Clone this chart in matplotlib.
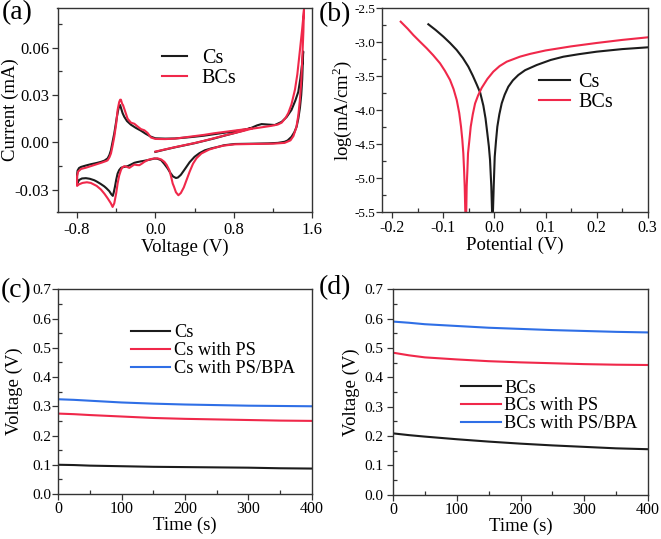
import numpy as np
import matplotlib
matplotlib.use('Agg')
import matplotlib.pyplot as plt
from matplotlib.ticker import MultipleLocator, FormatStrFormatter

plt.rcParams['font.family'] = ['Liberation Serif', 'DejaVu Serif']
plt.rcParams['axes.unicode_minus'] = False
plt.rcParams['mathtext.fontset'] = 'custom'
plt.rcParams['mathtext.rm'] = 'Liberation Serif'

BLACK = '#1c1c1c'
RED = '#f0284a'
BLUE = '#2f6fe6'

#%% (a) CV curves
cs_cv_v = [0.0, 0.1, 0.2, 0.3, 0.4, 0.5, 0.6, 0.7, 0.8, 0.9, 0.98, 1.04, 1.085, 1.15, 1.22, 1.29,
           1.34, 1.39, 1.43, 1.46, 1.48, 1.50, 1.51,
           1.50, 1.49, 1.477, 1.46, 1.443, 1.42, 1.39, 1.35, 1.32, 1.25, 1.15, 1.0, 0.81, 0.7,
           0.641, 0.57, 0.505, 0.45, 0.40, 0.35, 0.30, 0.26, 0.23, 0.21, 0.18, 0.15, 0.126, 0.09,
           0.058, 0.02, -0.01, -0.05, -0.08, -0.12, -0.15, -0.19, -0.215, -0.25, -0.283, -0.32,
           -0.35, -0.37, -0.386, -0.40, -0.413, -0.425, -0.435, -0.45, -0.471, -0.50, -0.522,
           -0.56, -0.60, -0.625, -0.67, -0.71, -0.75, -0.778, -0.795, -0.80,
           -0.80, -0.795, -0.78, -0.76, -0.71, -0.66, -0.60, -0.556, -0.52, -0.488, -0.47, -0.454,
           -0.44, -0.42, -0.405, -0.393, -0.38, -0.37, -0.36, -0.35, -0.335, -0.318, -0.29, -0.25,
           -0.20, -0.147, -0.10, -0.045, 0.0, 0.1, 0.2, 0.3, 0.4, 0.5, 0.6, 0.7, 0.8, 0.9, 0.98]
cs_cv_i = [-0.0060, -0.0045, -0.0031, -0.0018, -0.0005, 0.0010, 0.0025, 0.0042, 0.0058, 0.0075,
           0.0092, 0.0108, 0.0116, 0.0113, 0.0110, 0.0130,
           0.0160, 0.0205, 0.0265, 0.0320, 0.0400, 0.0500, 0.0575,
           0.0400, 0.0300, 0.0220, 0.0150, 0.0100, 0.0065, 0.0035, 0.0012, 0.0004, -0.0003,
           -0.0006, -0.0008, -0.0010, -0.0018,
           -0.0028, -0.0038, -0.0050, -0.0068, -0.0091, -0.0125, -0.0170, -0.0205, -0.0222,
           -0.0225, -0.0215, -0.0190, -0.0165, -0.0135,
           -0.0112, -0.0103, -0.0102, -0.0108, -0.0112, -0.0117, -0.0120, -0.0125, -0.0129,
           -0.0140, -0.0150, -0.0155,
           -0.0160, -0.0175, -0.0197, -0.0235, -0.0280, -0.0315, -0.0338, -0.0328, -0.0308,
           -0.0290, -0.0278,
           -0.0262, -0.0247, -0.0239, -0.0230, -0.0226, -0.0228, -0.0237, -0.0255, -0.0268,
           -0.0205, -0.0178, -0.0162, -0.0155, -0.0146, -0.0138, -0.0130, -0.0123, -0.0115,
           -0.0101, -0.0080, -0.0049,
           -0.0005, 0.0057, 0.0115, 0.0162, 0.0205, 0.0230, 0.0236, 0.0215, 0.0185, 0.0162,
           0.0135, 0.0112,
           0.0092, 0.0074, 0.0055, 0.0036, 0.0026, 0.0024, 0.0025, 0.0030, 0.0036, 0.0043,
           0.0052, 0.0061, 0.0070, 0.0080, 0.0090]

bcs_cv_v = [0.0, 0.1, 0.2, 0.3, 0.4, 0.5, 0.6, 0.7, 0.8, 0.9, 0.98, 1.08, 1.187, 1.25, 1.29,
            1.33, 1.358, 1.39, 1.426, 1.45, 1.477, 1.50, 1.518,
            1.512, 1.50, 1.49, 1.475, 1.46, 1.44, 1.41, 1.38, 1.32, 1.2, 0.98, 0.81, 0.7, 0.64,
            0.55, 0.47, 0.42, 0.385, 0.35, 0.32, 0.29, 0.26, 0.235, 0.21, 0.19, 0.177, 0.16,
            0.143, 0.115, 0.092, 0.06, 0.024, -0.01, -0.045, -0.08, -0.113, -0.14, -0.164,
            -0.19, -0.215, -0.24, -0.266, -0.29, -0.318, -0.34, -0.352, -0.37, -0.386, -0.40,
            -0.42, -0.437, -0.455, -0.488, -0.52, -0.556, -0.60, -0.66, -0.70, -0.744, -0.78,
            -0.80,
            -0.80, -0.79, -0.76, -0.71, -0.66, -0.60, -0.55, -0.50, -0.488, -0.47, -0.454,
            -0.44, -0.42, -0.40, -0.386, -0.37, -0.36, -0.352, -0.34, -0.33, -0.30, -0.284,
            -0.25, -0.215, -0.18, -0.147, -0.113, -0.08, -0.045, 0.0, 0.1, 0.2, 0.3, 0.4, 0.5,
            0.6, 0.7, 0.8, 0.9, 0.98]
bcs_cv_i = [-0.0058, -0.0044, -0.0030, -0.0017, -0.0004, 0.0011, 0.0027, 0.0043, 0.0058,
            0.0073, 0.0086, 0.0095, 0.0105, 0.0113, 0.0125,
            0.0155, 0.0186, 0.0240, 0.0334, 0.0430, 0.0585, 0.0720, 0.0840,
            0.0700, 0.0520, 0.0380, 0.0260, 0.0170, 0.0095, 0.0040, 0.0013, -0.0003, -0.0008,
            -0.0010, -0.0012, -0.0020, -0.0028,
            -0.0045, -0.0070, -0.0100, -0.0134, -0.0185, -0.0235, -0.0285, -0.0320, -0.0334,
            -0.0315, -0.0280, -0.0260, -0.0215,
            -0.0176, -0.0142, -0.0123, -0.0108, -0.0101, -0.0102, -0.0105, -0.0112, -0.0123,
            -0.0135, -0.0144,
            -0.0143, -0.0140, -0.0150, -0.0161, -0.0155, -0.0150, -0.0160, -0.0175, -0.0210,
            -0.0260, -0.0320,
            -0.0385, -0.0408, -0.0385, -0.0353, -0.0325, -0.0298, -0.0275, -0.0256, -0.0252,
            -0.0256, -0.0265, -0.0275,
            -0.0215, -0.0185, -0.0168, -0.0160, -0.0150, -0.0138, -0.0128, -0.0117, -0.0113,
            -0.0095, -0.0070,
            -0.0030, 0.0035, 0.0120, 0.0205, 0.0255, 0.0270, 0.0270, 0.0245, 0.0235, 0.0180,
            0.0150,
            0.0125, 0.0118, 0.0100, 0.0084, 0.0077, 0.0060, 0.0031, 0.0022, 0.0021, 0.0024,
            0.0032, 0.0040, 0.0048,
            0.0058, 0.0066, 0.0074, 0.0082, 0.0088]

#%% (b) Tafel curves
cs_tafel_v = [-0.1295, -0.115, -0.1, -0.087, -0.074, -0.062, -0.0512, -0.0425, -0.0348, -0.028,
              -0.0218, -0.0175, -0.014, -0.011, -0.0087, -0.0062, -0.0048, -0.0036, -0.0028,
              -0.0015, 0.0005, 0.0030, 0.0056, 0.0095, 0.0142, 0.020, 0.0271, 0.036, 0.0467,
              0.06, 0.0827, 0.11, 0.1348, 0.165, 0.2, 0.25, 0.3]
cs_tafel_log = [-2.735, -2.82, -2.917, -3.01, -3.113, -3.23, -3.358, -3.49, -3.62, -3.74,
                -3.93, -4.12, -4.338, -4.53, -4.731, -5.12, -5.47, -5.58, -5.45,
                -5.12, -4.682, -4.45, -4.241, -4.06, -3.897, -3.77, -3.653, -3.56, -3.481,
                -3.41, -3.334, -3.26, -3.212, -3.175, -3.138, -3.10, -3.074]

bcs_tafel_v = [-0.1836, -0.17, -0.1589, -0.146, -0.1327, -0.12, -0.1066, -0.097, -0.087, -0.080,
               -0.0739, -0.069, -0.0655, -0.063, -0.061, -0.0595, -0.0583, -0.0572, -0.0562,
               -0.0552, -0.0544, -0.053, -0.0518, -0.049, -0.0465, -0.0425, -0.038, -0.032,
               -0.025, -0.014, -0.0023, 0.01, 0.024, 0.05, 0.07, 0.1, 0.15, 0.2, 0.25, 0.3]
bcs_tafel_log = [-2.697, -2.80, -2.893, -2.99, -3.088, -3.19, -3.309, -3.42, -3.554, -3.69,
                 -3.849, -4.04, -4.241, -4.43, -4.632, -4.88, -5.12, -5.47, -5.58,
                 -5.47, -5.12, -4.88, -4.632, -4.43, -4.241, -4.06, -3.90, -3.78,
                 -3.67, -3.54, -3.432, -3.35, -3.285, -3.211, -3.17, -3.12, -3.06, -3.01,
                 -2.965, -2.927]

#%% (c), (d) open circuit voltage
time_s = [0, 25, 50, 100, 150, 200, 250, 300, 350, 400]
cs_ocv = [0.100, 0.099, 0.097, 0.095, 0.093, 0.092, 0.091, 0.090, 0.088, 0.087]
cs_ps_ocv = [0.275, 0.273, 0.270, 0.265, 0.260, 0.257, 0.255, 0.253, 0.251, 0.250]
cs_psbpa_ocv = [0.324, 0.322, 0.319, 0.313, 0.309, 0.306, 0.304, 0.302, 0.301, 0.300]
bcs_ocv = [0.209, 0.203, 0.198, 0.189, 0.181, 0.174, 0.168, 0.163, 0.158, 0.155]
bcs_ps_ocv = [0.484, 0.475, 0.468, 0.461, 0.455, 0.451, 0.448, 0.445, 0.443, 0.442]
bcs_psbpa_ocv = [0.590, 0.586, 0.581, 0.575, 0.569, 0.565, 0.561, 0.558, 0.555, 0.553]

#%%
W, H = 661, 539
fig = plt.figure(figsize=(W / 100, H / 100), dpi=100)


def box(l, t, r, b):
    return [l / W, 1 - b / H, (r - l) / W, (b - t) / H]


ax_a = fig.add_axes(box(57.5, 8, 312, 212))
ax_b = fig.add_axes(box(381.7, 8.3, 647.7, 212.3))
ax_c = fig.add_axes(box(58, 289.3, 312, 494))
ax_d = fig.add_axes(box(393, 289.3, 648, 494.7))

for ax in (ax_a, ax_b, ax_c, ax_d):
    for s in ax.spines.values():
        s.set_linewidth(1.0)
        s.set_color('#333333')
    ax.tick_params(which='both', top=False, right=False,
                   labelsize=11, color='#333333', width=0.9)
    ax.tick_params(which='major', direction='out', length=4)
    ax.tick_params(which='minor', direction='in', length=3)

lw = 1.5
LAB = 13.5

# (a)
ax_a.plot(cs_cv_v, cs_cv_i, color=BLACK, lw=lw, label='Cs')
ax_a.plot(bcs_cv_v, bcs_cv_i, color=RED, lw=lw, label='BCs')
ax_a.set_xlim(-1.0, 1.6)
ax_a.set_ylim(-0.044, 0.085)
ax_a.xaxis.set_major_locator(MultipleLocator(0.8))
ax_a.xaxis.set_minor_locator(MultipleLocator(0.4))
ax_a.yaxis.set_major_locator(MultipleLocator(0.03))
ax_a.yaxis.set_minor_locator(MultipleLocator(0.015))
ax_a.xaxis.set_major_formatter(FormatStrFormatter('%.1f'))
ax_a.yaxis.set_major_formatter(FormatStrFormatter('%.2f'))
ax_a.tick_params(axis='x', pad=3, labelsize=12)
ax_a.tick_params(axis='y', pad=2, labelsize=12)
ax_a.set_xlabel('Voltage (V)', fontsize=LAB)
ax_a.set_ylabel('Current (mA)', fontsize=LAB)
ax_a.xaxis.set_label_coords(0.5, -0.13)
ax_a.yaxis.set_label_coords(-0.152, 0.5)
ax_a.legend(loc='center left', bbox_to_anchor=(0.409, 0.703), frameon=False,
            fontsize=14.5, handlelength=1.25, handletextpad=0.75, labelspacing=0.05,
            borderpad=0, borderaxespad=0)

# (b)
ax_b.plot(cs_tafel_v, cs_tafel_log, color=BLACK, lw=lw, label='Cs')
ax_b.plot(bcs_tafel_v, bcs_tafel_log, color=RED, lw=lw, label='BCs')
ax_b.set_xlim(-0.2208, 0.3)
ax_b.set_ylim(-5.5, -2.5)
ax_b.xaxis.set_major_locator(MultipleLocator(0.1))
ax_b.xaxis.set_minor_locator(MultipleLocator(0.05))
ax_b.yaxis.set_major_locator(MultipleLocator(0.5))
ax_b.yaxis.set_minor_locator(MultipleLocator(0.25))
ax_b.xaxis.set_major_formatter(FormatStrFormatter('%.1f'))
ax_b.yaxis.set_major_formatter(FormatStrFormatter('%.1f'))
ax_b.tick_params(axis='x', pad=1.5, labelsize=11.5)
ax_b.tick_params(axis='y', pad=0.5, labelsize=9.5)
ax_b.set_xlabel('Potential (V)', fontsize=LAB)
ax_b.set_ylabel('log(mA/cm$^2$)', fontsize=LAB)
ax_b.xaxis.set_label_coords(0.5, -0.118)
ax_b.yaxis.set_label_coords(-0.104, 0.5)
ax_b.legend(loc='center left', bbox_to_anchor=(0.591, 0.587), frameon=False,
            fontsize=14.5, handlelength=1.55, handletextpad=0.4, labelspacing=0.05,
            borderpad=0, borderaxespad=0)

# (c), (d)
for ax, series, names, anchor in (
        (ax_c, (cs_ocv, cs_ps_ocv, cs_psbpa_ocv),
         ('Cs', 'Cs with PS', 'Cs with PS/BPA'), (0.287, 0.699)),
        (ax_d, (bcs_ocv, bcs_ps_ocv, bcs_psbpa_ocv),
         ('BCs', 'BCs with PS', 'BCs with PS/BPA'), (0.267, 0.432))):
    for vals, name, col in zip(series, names, (BLACK, RED, BLUE)):
        ax.plot(time_s, vals, color=col, lw=lw, label=name)
    ax.set_xlim(0, 400)
    ax.set_ylim(0, 0.7)
    ax.xaxis.set_major_locator(MultipleLocator(100))
    ax.xaxis.set_minor_locator(MultipleLocator(50))
    ax.yaxis.set_major_locator(MultipleLocator(0.1))
    ax.yaxis.set_minor_locator(MultipleLocator(0.05))
    ax.yaxis.set_major_formatter(FormatStrFormatter('%.1f'))
    ax.tick_params(axis='x', pad=1, labelsize=11.5)
    ax.tick_params(axis='y', labelsize=11)
    ax.set_xlabel('Time (s)', fontsize=LAB)
    ax.set_ylabel('Voltage (V)', fontsize=LAB)
    ax.xaxis.set_label_coords(0.5, -0.112)
    ax.legend(loc='center left', bbox_to_anchor=anchor, frameon=False,
              fontsize=13.2, handlelength=2.15, handletextpad=0.2, labelspacing=0.05,
              borderpad=0, borderaxespad=0)

ax_c.tick_params(axis='y', pad=0.7)
ax_d.tick_params(axis='y', pad=3)
ax_c.yaxis.set_label_coords(-0.136, 0.5)
ax_d.yaxis.set_label_coords(-0.13, 0.5)

# panel letters
for x, y, s in ((2, 0, '(a)'), (319, 2, '(b)'), (1, 278, '(c)'), (319, 275, '(d)')):
    fig.text(x / W, 1 - y / H, s, fontsize=20, ha='left', va='top')

fig.savefig('out.png', dpi=100)
